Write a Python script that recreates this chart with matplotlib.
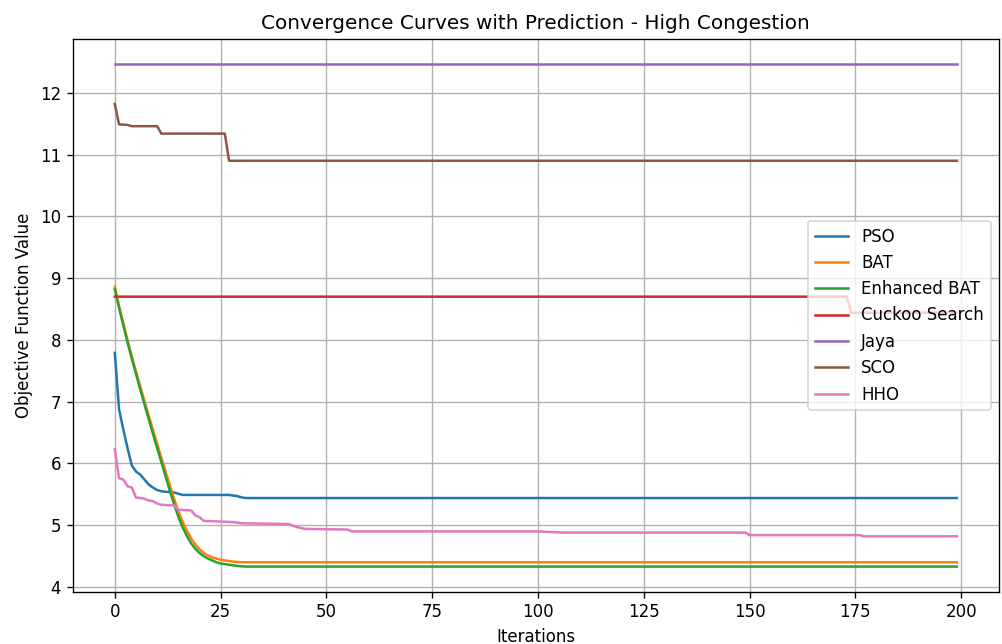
import matplotlib
matplotlib.use('Agg')
import matplotlib.pyplot as plt

# values (iteration, objective value)
pso_iter = [0, 1, 2, 3, 4, 5, 6, 7, 8, 9, 10, 11, 12, 13, 14, 15, 16, 27, 28, 29, 30, 31, 199]
pso_val = [7.79, 6.88, 6.55, 6.25, 5.97, 5.87, 5.82, 5.74, 5.66, 5.61, 5.57, 5.55, 5.54, 5.54,
           5.53, 5.51, 5.49, 5.49, 5.48, 5.47, 5.45, 5.44, 5.44]

bat_iter = [0, 1, 2, 3, 4, 5, 6, 7, 8, 9, 10, 11, 12, 13, 14, 15, 16, 17, 18, 19, 20,
            21, 22, 23, 24, 25, 26, 27, 28, 29, 30, 199]
bat_val = [8.86, 8.55, 8.27, 8.00, 7.74, 7.49, 7.25, 7.01, 6.78, 6.55, 6.32, 6.09, 5.87,
           5.65, 5.43, 5.23, 5.06, 4.91, 4.79, 4.69, 4.61, 4.55, 4.51, 4.48, 4.46, 4.44,
           4.43, 4.42, 4.41, 4.405, 4.40, 4.40]

ebat_iter = [0, 1, 2, 3, 4, 5, 6, 7, 8, 9, 10, 11, 12, 13, 14, 15, 16, 17, 18, 19, 20,
             21, 22, 23, 24, 25, 26, 27, 28, 29, 30, 31, 32, 199]
ebat_val = [8.82, 8.52, 8.24, 7.96, 7.70, 7.45, 7.20, 6.96, 6.72, 6.48, 6.25, 6.02, 5.79,
            5.56, 5.34, 5.14, 4.97, 4.83, 4.71, 4.62, 4.55, 4.50, 4.46, 4.43, 4.40, 4.38,
            4.37, 4.36, 4.35, 4.34, 4.335, 4.33, 4.33, 4.33]

cuckoo_iter = [0, 173, 174, 199]
cuckoo_val = [8.70, 8.70, 8.44, 8.44]

jaya_iter = [0, 199]
jaya_val = [12.46, 12.46]

sco_iter = [0, 1, 3, 4, 10, 11, 26, 27, 199]
sco_val = [11.82, 11.49, 11.48, 11.46, 11.46, 11.34, 11.34, 10.90, 10.90]

hho_iter = [0, 1, 2, 3, 4, 5, 6, 7, 8, 9, 10, 11, 14, 15, 18, 19, 20, 21, 28, 30, 41, 43,
            45, 55, 56, 100, 106, 149, 150, 176, 177, 199]
hho_val = [6.23, 5.76, 5.74, 5.63, 5.61, 5.45, 5.44, 5.43, 5.40, 5.39, 5.35, 5.33, 5.32,
           5.25, 5.24, 5.16, 5.13, 5.07, 5.05, 5.03, 5.02, 4.97, 4.94, 4.93, 4.90, 4.90,
           4.88, 4.88, 4.84, 4.84, 4.82, 4.82]

series = [
    ('PSO', pso_iter, pso_val),
    ('BAT', bat_iter, bat_val),
    ('Enhanced BAT', ebat_iter, ebat_val),
    ('Cuckoo Search', cuckoo_iter, cuckoo_val),
    ('Jaya', jaya_iter, jaya_val),
    ('SCO', sco_iter, sco_val),
    ('HHO', hho_iter, hho_val),
]


def main():
    dpi = 120
    fig = plt.figure(figsize=(1003 / dpi, 644 / dpi), dpi=dpi)
    fig.subplots_adjust(left=72.7 / 1003, right=999 / 1003,
                        top=1 - 39.3 / 644, bottom=1 - 591.7 / 644)

    for name, it, val in series:
        plt.plot(it, val, label=name)

    plt.title('Convergence Curves with Prediction - High Congestion')
    plt.xlabel('Iterations')
    plt.ylabel('Objective Function Value')
    plt.legend(loc='center right')
    plt.grid(True)
    plt.savefig('out.png', dpi=dpi)
    plt.close()


if __name__ == '__main__':
    main()
